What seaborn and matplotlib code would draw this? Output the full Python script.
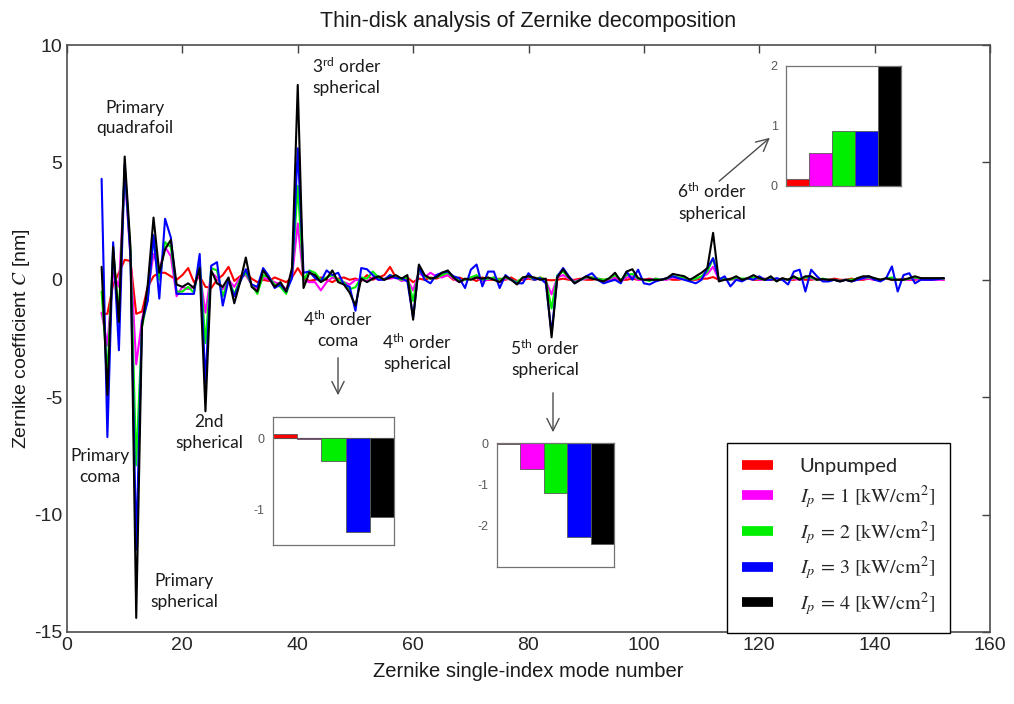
import numpy as np
import pandas as pd
import matplotlib
matplotlib.use("Agg")
import matplotlib.pyplot as plt
import seaborn as sns
from matplotlib.lines import Line2D

# ---------------- data ----------------
modes = np.arange(6, 153)

unpumped = [
    -1.45, -1.45, -0.2, 0.3, 0.85, 0.8, -1.45, -1.35, -0.3, 0.15,
    0.3, 0.3, 0.15, 0.0, 0.2, 0.5, -0.1, 0.15, -0.3, -0.35,
    0.0, 0.2, 0.55, -0.05, 0.15, 0.3, 0.05, -0.1, 0.0, -0.05,
    0.1, 0.0, -0.1, 0.1, 0.5, 0.1, -0.05, 0.0, 0.1, 0.0,
    -0.1, 0.05, 0.1, 0.0, 0.056, -0.05, 0.2, 0.0, 0.1, 0.2,
    0.55, 0.1, 0.0, 0.1, -0.1, 0.05, 0.0, 0.1, 0.05, 0.15,
    0.2, 0.0, 0.1, 0.0, 0.05, -0.05, 0.1, 0.0, 0.0, 0.05,
    0.0, 0.1, -0.05, 0.0, 0.05, 0.0, 0.1, 0.0, -0.02, 0.0,
    0.05, 0.0, 0.0, 0.05, 0.0, 0.0, 0.05, 0.0, 0.0, 0.05,
    0.0, 0.0, 0.05, 0.0, 0.0, 0.05, 0.0, 0.0, 0.05, 0.0,
    0.0, 0.05, 0.0, 0.0, 0.05, 0.05, 0.117, 0.0, 0.0, 0.05,
    0.0, 0.0, 0.05, 0.0, 0.0, 0.05, 0.0, 0.0, 0.05, 0.0,
    0.0, 0.05, 0.0, 0.0, 0.05, 0.0, 0.0, 0.05, 0.0, 0.0,
    0.05, 0.0, 0.0, 0.05, 0.0, 0.0, 0.05, 0.0, 0.0, 0.05,
    0.0, 0.0, 0.05, 0.0, 0.0, 0.05, 0.0,
]

pump_1 = [
    -1.4, -2.8, 0.3, -0.3, 4.5, 1.0, -3.6, -1.7, -0.5, 1.1,
    0.4, 1.4, 1.0, -0.7, -0.3, -0.4, -0.3, 0.3, -1.4, 0.3,
    0.1, -0.4, 0.0, -0.3, 0.1, 0.2, -0.2, -0.4, 0.1, 0.0,
    -0.1, -0.2, -0.4, 0.1, 2.4, 0.0, -0.1, -0.1, -0.45, -0.1,
    0.1, 0.0, -0.1, -0.2, -0.01, 0.0, -0.05, 0.1, 0.0, 0.05,
    0.05, 0.1, -0.05, 0.0, -0.45, 0.3, 0.1, 0.3, 0.15, 0.1,
    0.2, 0.05, -0.1, 0.0, 0.05, 0.1, -0.05, 0.0, 0.1, -0.1,
    0.05, 0.0, -0.1, 0.05, 0.1, 0.0, 0.05, -0.05, -0.62, 0.1,
    0.2, 0.05, -0.05, 0.0, 0.05, 0.1, 0.0, -0.05, 0.0, 0.1,
    -0.05, 0.1, 0.15, 0.0, 0.0, 0.0, 0.05, 0.0, 0.0, 0.1,
    0.05, 0.05, 0.0, 0.05, 0.1, 0.25, 0.555, 0.0, 0.0, 0.0,
    0.05, 0.0, 0.05, 0.1, 0.0, 0.0, 0.05, 0.0, 0.0, 0.0,
    0.05, 0.0, 0.1, 0.05, 0.0, 0.0, 0.0, 0.0, -0.05, 0.0,
    -0.05, 0.0, 0.05, 0.05, 0.0, 0.0, 0.05, 0.05, 0.0, 0.0,
    0.0, 0.05, 0.0, 0.0, 0.0, 0.0, 0.0,
]

pump_2 = [
    -0.5, -4.0, 1.2, -1.5, 4.8, 1.2, -7.9, -2.0, -0.8, 1.8,
    0.0, 1.6, 1.4, -0.5, -0.5, -0.3, -0.55, 0.8, -2.7, 0.5,
    0.4, -0.7, 0.0, -0.6, 0.0, 0.3, -0.2, -0.6, 0.2, 0.1,
    -0.2, -0.3, -0.6, 0.2, 4.0, 0.0, 0.4, 0.3, 0.0, 0.1,
    0.2, 0.0, -0.1, -0.4, -0.315, 0.1, 0.05, 0.35, 0.1, 0.0,
    0.2, 0.1, 0.0, 0.1, -0.9, 0.4, 0.15, 0.05, 0.1, 0.2,
    0.3, 0.1, -0.05, 0.0, 0.1, 0.2, 0.0, 0.05, 0.1, 0.0,
    0.1, 0.0, -0.1, 0.1, 0.15, 0.0, 0.1, 0.0, -1.22, 0.2,
    0.35, 0.1, -0.1, 0.0, 0.1, 0.1, 0.05, 0.0, 0.05, 0.2,
    0.0, 0.2, 0.25, 0.05, 0.0, -0.05, 0.05, 0.0, 0.05, 0.15,
    0.1, 0.1, 0.0, 0.05, 0.15, 0.35, 0.917, 0.05, 0.05, 0.0,
    0.1, 0.05, 0.05, 0.1, 0.05, 0.0, 0.1, -0.05, 0.05, 0.0,
    0.1, 0.05, 0.1, 0.1, 0.0, 0.05, 0.0, 0.0, -0.05, 0.0,
    0.0, 0.05, 0.1, 0.1, 0.05, 0.0, 0.05, 0.1, 0.0, 0.0,
    0.05, 0.1, 0.05, 0.05, 0.05, 0.05, 0.05,
]

pump_3 = [
    4.3, -6.7, 1.6, -3.0, 4.9, 1.0, -11.5, -1.8, -0.9, 1.9,
    -0.8, 2.6, 1.8, -0.6, -0.6, -0.6, -0.6, 1.1, -4.4, 0.6,
    0.75, -1.1, 0.0, -0.7, -0.1, 0.45, -0.2, -0.3, 0.5, 0.15,
    -0.35, -0.2, -0.5, 0.07, 5.6, 0.3, 0.35, 0.07, -0.07, 0.4,
    0.2, 0.3, -0.2, -0.3, -1.32, 0.5, 0.45, 0.2, 0.0, 0.0,
    0.2, 0.07, 0.07, -0.07, -1.6, 0.55, 0.0, -0.15, 0.2, 0.3,
    0.35, 0.15, 0.07, -0.35, 0.43, 0.65, -0.28, 0.35, 0.35, -0.35,
    0.2, 0.0, -0.15, -0.15, 0.28, 0.0, 0.07, -0.15, -2.28, 0.15,
    0.5, 0.15, -0.15, 0.0, 0.15, 0.28, 0.0, -0.15, -0.07, 0.0,
    -0.15, 0.35, 0.0, 0.43, -0.15, -0.2, -0.07, 0.0, 0.07, 0.15,
    0.07, 0.0, -0.07, -0.15, 0.0, 0.5, 0.92, 0.0, 0.15, -0.28,
    0.0, -0.07, 0.07, 0.0, 0.15, 0.0, 0.0, 0.07, 0.0, -0.2,
    0.35, 0.43, -0.5, 0.43, 0.15, -0.07, -0.07, 0.0, -0.07, 0.0,
    -0.07, 0.0, 0.07, 0.15, 0.0, -0.07, 0.07, 0.57, -0.5, 0.2,
    0.28, -0.15, 0.0, 0.0, 0.0, 0.03, 0.07,
]

pump_4 = [
    0.55, -4.9, 1.4, -1.8, 5.25, 1.4, -14.4, -2.0, -0.2, 2.65,
    0.3, 1.3, 1.7, -0.2, -0.3, -0.15, -0.35, 0.5, -5.6, 0.4,
    -0.15, -0.3, 0.1, -1.0, -0.1, 0.95, -0.3, -0.5, 0.4, 0.05,
    -0.3, -0.1, -0.5, 0.5, 8.3, -0.35, 0.3, 0.2, -0.1, 0.05,
    0.4, -0.1, -0.2, -0.55, -1.1, 0.05, -0.1, 0.05, 0.15, 0.0,
    0.1, 0.2, 0.05, 0.2, -1.7, 0.65, 0.2, 0.05, 0.1, 0.3,
    0.4, 0.1, -0.1, 0.05, 0.0, 0.1, 0.05, 0.1, 0.0, -0.1,
    0.15, 0.0, -0.2, 0.1, 0.15, 0.1, 0.0, 0.05, -2.45, 0.1,
    0.45, 0.1, -0.15, 0.0, 0.15, 0.05, 0.0, -0.07, 0.07, 0.3,
    -0.07, 0.35, 0.45, 0.07, 0.0, 0.0, 0.0, 0.0, 0.07, 0.25,
    0.2, 0.15, 0.0, 0.15, 0.3, 0.5, 2.0, -0.07, 0.0, 0.03,
    0.15, 0.0, 0.07, 0.2, 0.07, 0.0, 0.15, -0.07, 0.07, 0.0,
    0.15, 0.0, 0.15, 0.15, 0.0, 0.03, 0.0, 0.0, -0.07, 0.0,
    -0.07, 0.07, 0.15, 0.15, 0.07, 0.0, 0.07, 0.0, 0.0, 0.0,
    0.07, 0.15, 0.07, 0.07, 0.07, 0.07, 0.07,
]

series_labels = [
    "Unpumped",
    r"$I_p\,=\,1\ [\mathrm{kW/cm^2}]$",
    r"$I_p\,=\,2\ [\mathrm{kW/cm^2}]$",
    r"$I_p\,=\,3\ [\mathrm{kW/cm^2}]$",
    r"$I_p\,=\,4\ [\mathrm{kW/cm^2}]$",
]
series_colors = ["#ff0000", "#ff00ff", "#00ee00", "#0000ff", "#000000"]

# modes shown in the bar insets
inset_modes = {"coma4": 50, "sph5": 84, "sph6": 112}

# ---------------- style ----------------
sns.set_style("white")
plt.rcParams["font.family"] = ["Liberation Sans", "DejaVu Sans"]
plt.rcParams["axes.unicode_minus"] = False
plt.rcParams["mathtext.fontset"] = "stix"
plt.rcParams["mathtext.rm"] = "Lato"
plt.rcParams["mathtext.it"] = "Lato:italic"
plt.rcParams["mathtext.bf"] = "Lato:bold"
plt.rcParams["mathtext.sf"] = "Lato"

all_series = [unpumped, pump_1, pump_2, pump_3, pump_4]
df = pd.DataFrame({
    "mode": np.tile(modes, len(all_series)),
    "coef": np.concatenate([np.asarray(s, float) for s in all_series]),
    "series": np.repeat(series_labels, len(modes)),
})

fig = plt.figure(figsize=(10.14, 7.04), dpi=100)
W, H = 1014, 704
ax = fig.add_axes([67 / W, (H - 632) / H, (990 - 67) / W, (632 - 45) / H])

sns.lineplot(data=df, x="mode", y="coef", hue="series", hue_order=series_labels,
             palette=series_colors, linewidth=1.5, errorbar=None, legend=False,
             ax=ax)

ax.set_xlim(0, 160)
ax.set_ylim(-15, 10)
ax.set_xticks(np.arange(0, 161, 20))
ax.set_yticks(np.arange(-15, 11, 5))
ax.tick_params(direction="in", top=True, right=True, length=6, width=1,
               labelsize=14, colors="0.25", labelcolor="0.15")
for s in ax.spines.values():
    s.set_color("0.3")
    s.set_linewidth(1.2)

ax.set_xlabel("Zernike single-index mode number", fontsize=14.5, color="0.1",
              labelpad=6)
ax.set_ylabel(r"Zernike coefficient $C$ [nm]", fontsize=14, color="0.1",
              labelpad=1)
ax.set_title("Thin-disk analysis of Zernike decomposition", fontsize=15.5,
             color="0.1", pad=13)

# ---------------- annotations ----------------
ann_kw = dict(ha="center", va="center", fontsize=12.5, family="Lato",
              color="0.1", linespacing=1.35, math_fontfamily="custom")
ax.text(11.8, 6.9, "Primary\nquadrafoil", **ann_kw)
ax.text(48.5, 8.67, "$3^{\\mathrm{rd}}$ order\nspherical", **ann_kw)
ax.text(5.7, -7.95, "Primary\ncoma", **ann_kw)
ax.text(24.6, -6.5, "2nd\nspherical", **ann_kw)
ax.text(20.3, -13.27, "Primary\nspherical", **ann_kw)
ax.text(47.0, -2.11, "$4^{\\mathrm{th}}$ order\ncoma", **ann_kw)
ax.text(60.7, -3.09, "$4^{\\mathrm{th}}$ order\nspherical", **ann_kw)
ax.text(82.9, -3.35, "$5^{\\mathrm{th}}$ order\nspherical", **ann_kw)
ax.text(111.8, 3.32, "$6^{\\mathrm{th}}$ order\nspherical", **ann_kw)

arrow_kw = dict(arrowstyle="->", color="0.3", lw=1.0, mutation_scale=22)
for (x1, y1), (x2, y2) in [((338, 355), (338, 398)),
                           ((553, 390), (553, 435)),
                           ((717, 183), (772, 136))]:
    ax.annotate("", xy=(x2, H - y2), xytext=(x1, H - y1),
                xycoords="figure pixels", textcoords="figure pixels",
                arrowprops=arrow_kw)

# ---------------- legend ----------------
handles = [Line2D([0], [0], color=c, lw=7, solid_capstyle="butt")
           for c in series_colors]
leg = ax.legend(handles, series_labels, loc="upper left",
                bbox_to_anchor=(727 / W, (H - 443) / H),
                bbox_transform=fig.transFigure,
                prop={"family": "Lato", "size": 14.5},
                handlelength=1.55, handletextpad=1.3, labelspacing=0.38,
                borderpad=0.75, borderaxespad=0, fancybox=False,
                framealpha=1, edgecolor="black")
leg.get_frame().set_linewidth(1.0)

# ---------------- bar insets ----------------
def bar_inset(rect_px, mode, ylim, yticks):
    left, top, right, bottom = rect_px
    iax = fig.add_axes([left / W, (H - bottom) / H, (right - left) / W,
                        (bottom - top) / H])
    idx = int(mode - modes[0])
    vals = [s[idx] for s in all_series]
    sns.barplot(x=series_labels, y=vals, hue=series_labels,
                palette=series_colors, width=1.0, dodge=False, legend=False,
                saturation=1, edgecolor="0.35", linewidth=0.6, ax=iax)
    iax.axhline(0, color="0.1", lw=0.8, zorder=0.5)
    iax.set_xlim(-0.5, 4.5)
    iax.set_ylim(*ylim)
    iax.set_xticks([])
    iax.set_yticks(yticks)
    iax.set_yticklabels([f"{t:g}" for t in yticks])
    iax.set_xlabel("")
    iax.set_ylabel("")
    iax.tick_params(axis="y", direction="in", right=True, length=3,
                    width=0.8, labelsize=9, colors="0.4", labelcolor="0.35",
                    pad=6)
    for s in iax.spines.values():
        s.set_color("0.45")
        s.set_linewidth(0.9)
    return iax

bar_inset((273, 417, 394, 545), inset_modes["coma4"], (-1.5, 0.3), [-1, 0])
bar_inset((497, 443, 614, 567), inset_modes["sph5"], (-3.0, 0.0), [-2, -1, 0])
bar_inset((786, 66, 901, 186), inset_modes["sph6"], (0.0, 2.0), [0, 1, 2])

fig.savefig("out.png", dpi=100)
